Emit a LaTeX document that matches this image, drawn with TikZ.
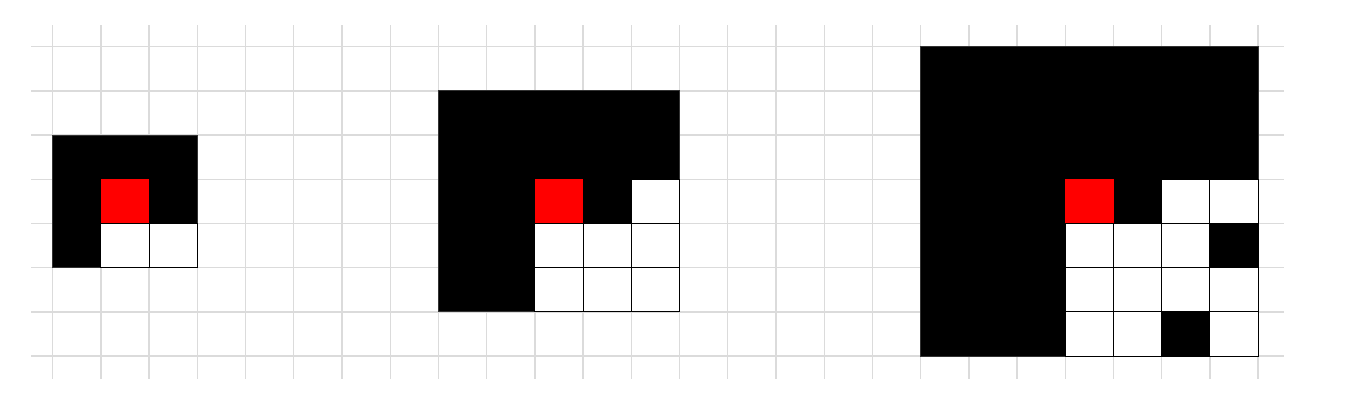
\documentclass[tikz,border=0pt]{standalone}
\begin{document}
\begin{tikzpicture}[x=48.22bp,y=-44.19bp,
  gridline/.style={draw=black!14,line width=1.4bp},
  blk/.style={fill=black,draw=black!80,line width=0.8bp},
  wht/.style={fill=white,draw=black,line width=1bp},
  redc/.style={fill=red,draw=none}]
\useasboundingbox (-1.0929,-1.0568) rectangle (27.236,8.357);
\fill[white] (-1.0929,-1.0568) rectangle (27.236,8.357);
% grid
\foreach \i in {0,...,25} \draw[gridline] (\i,-0.49) -- (\i,7.52);
\foreach \j in {0,...,7} \draw[gridline] (-0.44,\j) -- (25.53,\j);
% figure 1
\draw[blk] (0,2) rectangle (3,5);
\fill[redc] (1,3) rectangle (2,4);
\foreach \c/\r in {1/4,2/4} \draw[wht] (\c,\r) rectangle ++(1,1);
% figure 2
\draw[blk] (8,1) rectangle (13,6);
\fill[redc] (10,3) rectangle (11,4);
\foreach \c/\r in {12/3,10/4,11/4,12/4,10/5,11/5,12/5} \draw[wht] (\c,\r) rectangle ++(1,1);
% figure 3
\draw[blk] (18,0) rectangle (25,7);
\fill[redc] (21,3) rectangle (22,4);
\foreach \c/\r in {23/3,24/3,21/4,22/4,23/4,21/5,22/5,23/5,24/5,21/6,22/6,24/6} \draw[wht] (\c,\r) rectangle ++(1,1);
\draw[black,line width=1bp] (24,4) rectangle (25,5) (23,6) rectangle (24,7);
\end{tikzpicture}
\end{document}
